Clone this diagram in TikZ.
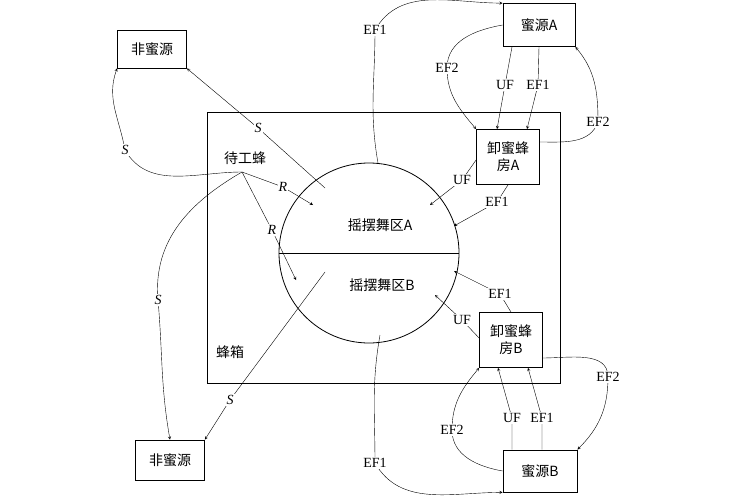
\documentclass[tikz,border=0pt]{standalone}
\usepackage{fontspec}
\setmainfont{Liberation Serif}
\newfontfamily\cjk{Noto Sans CJK SC}
\usetikzlibrary{arrows,calc}
\tikzset{
  box/.style={draw,thick,inner sep=3pt,font=\cjk\fontsize{14}{17}\selectfont,align=center},
  lbl/.style={fill=white,inner sep=1pt,font=\fontsize{14}{16}\selectfont},
  arr/.style={-stealth,thin}
}
\begin{document}
\begin{tikzpicture}[x=1pt,y=-1pt]
\useasboundingbox (0,0) rectangle (751,500);
% boxes
\draw[thick] (207,112) rectangle (560,383);
\node[box,minimum width=69,minimum height=38] (nA) at (152,49) {非蜜源};
\node[box,minimum width=69,minimum height=40] (nB) at (170,460) {非蜜源};
\node[box,minimum width=72,minimum height=43] (fA) at (539,25) {蜜源\textit{A}};
\node[box,minimum width=74,minimum height=42] (fB) at (540,471) {蜜源\textit{B}};
\node[box,minimum width=63,minimum height=55] (hA) at (508,157) {卸蜜蜂\\房\textit{A}};
\node[box,minimum width=63,minimum height=55] (hB) at (511,340) {卸蜜蜂\\房\textit{B}};
\node[circle,draw,thick,minimum size=180] (dz) at (369,253) {};
\draw[thick] (dz.west) -- (dz.east);
\node[font=\cjk\fontsize{14}{17}\selectfont] (dA) at (380,225) {摇摆舞区\textit{A}};
\node[font=\cjk\fontsize{14}{17}\selectfont] (dB) at (382,285) {摇摆舞区\textit{B}};
\node[font=\cjk\fontsize{14}{17}\selectfont] (wb) at (245,158) {待工蜂};
\node[font=\cjk\fontsize{14}{17}\selectfont] (hive) at (230,352) {蜂箱};
\coordinate (w) at (242,172);
% idle bees
\draw[arr] (w) to[out=180,in=-60] (125,150) node[lbl]{\textit{S}} to[out=100,in=-110] (nA.south west);
\draw[arr] (325,188) -- (258,128) node[lbl]{\textit{S}} -- (nA.south east);
\draw[arr] (w) -- (283,187) node[lbl]{\textit{R}} -- (313,205);
\draw[arr] (w) -- (272,230) node[lbl]{\textit{R}} -- (296,280);
\draw[arr] (w) to[out=-150,in=95] (158,300) node[lbl]{\textit{S}} to[out=-85,in=100] (nB.north);
\draw[arr] (325,272) -- (230,400) node[lbl]{\textit{S}} -- (nB.north east);
% A side
\draw[arr] (378,163) to[out=100,in=-90] (375,30) node[lbl]{EF1} to[out=60,in=180] (fA.north west);
\draw[arr] (fA.west) to[out=190,in=90] (447,68) node[lbl]{EF2} to[out=-90,in=130] (hA.north west);
\draw[arr] ($(fA.south)+(-27,0)$) -- (505,85) node[lbl]{UF} -- ($(hA.north)+(-11,0)$);
\draw[arr] ($(fA.south)+(0,0)$) -- (538,85) node[lbl]{EF1} -- ($(hA.north)+(19,0)$);
\draw[arr] ($(hA.east)+(0,-15)$) to[out=0,in=-110] (598,122) node[lbl]{EF2} to[out=90,in=-50] (fA.south east);
\draw[arr] ($(hA.west)+(0,3)$) -- (462,180) node[lbl]{UF} -- (430,205);
\draw[arr] (hA.south) -- (497,202) node[lbl]{EF1} -- (454,226);
% B side
\draw[arr] (hB.north) -- (500,294) node[lbl]{EF1} -- (454,271);
\draw[arr] ($(hB.west)+(0,-2)$) -- (462,320) node[lbl]{UF} -- (435,295);
\draw[arr] (380,335) to[out=-100,in=90] (375,463) node[lbl]{EF1} to[out=-60,in=180] (fB.south west);
\draw[arr] (fB.west) to[out=170,in=-90] (452,430) node[lbl]{EF2} to[out=90,in=-130] (hB.south west);
\draw[arr] ($(fB.north)+(-28,0)$) -- (512,418) node[lbl]{UF} -- ($(hB.south)+(-13,0)$);
\draw[arr] ($(fB.north)+(2,0)$) -- (542,418) node[lbl]{EF1} -- ($(hB.south)+(17,0)$);
\draw[arr] ($(hB.east)+(0,18)$) to[out=0,in=90] (608,377) node[lbl]{EF2} to[out=-90,in=45] (fB.north east);
\end{tikzpicture}
\end{document}
